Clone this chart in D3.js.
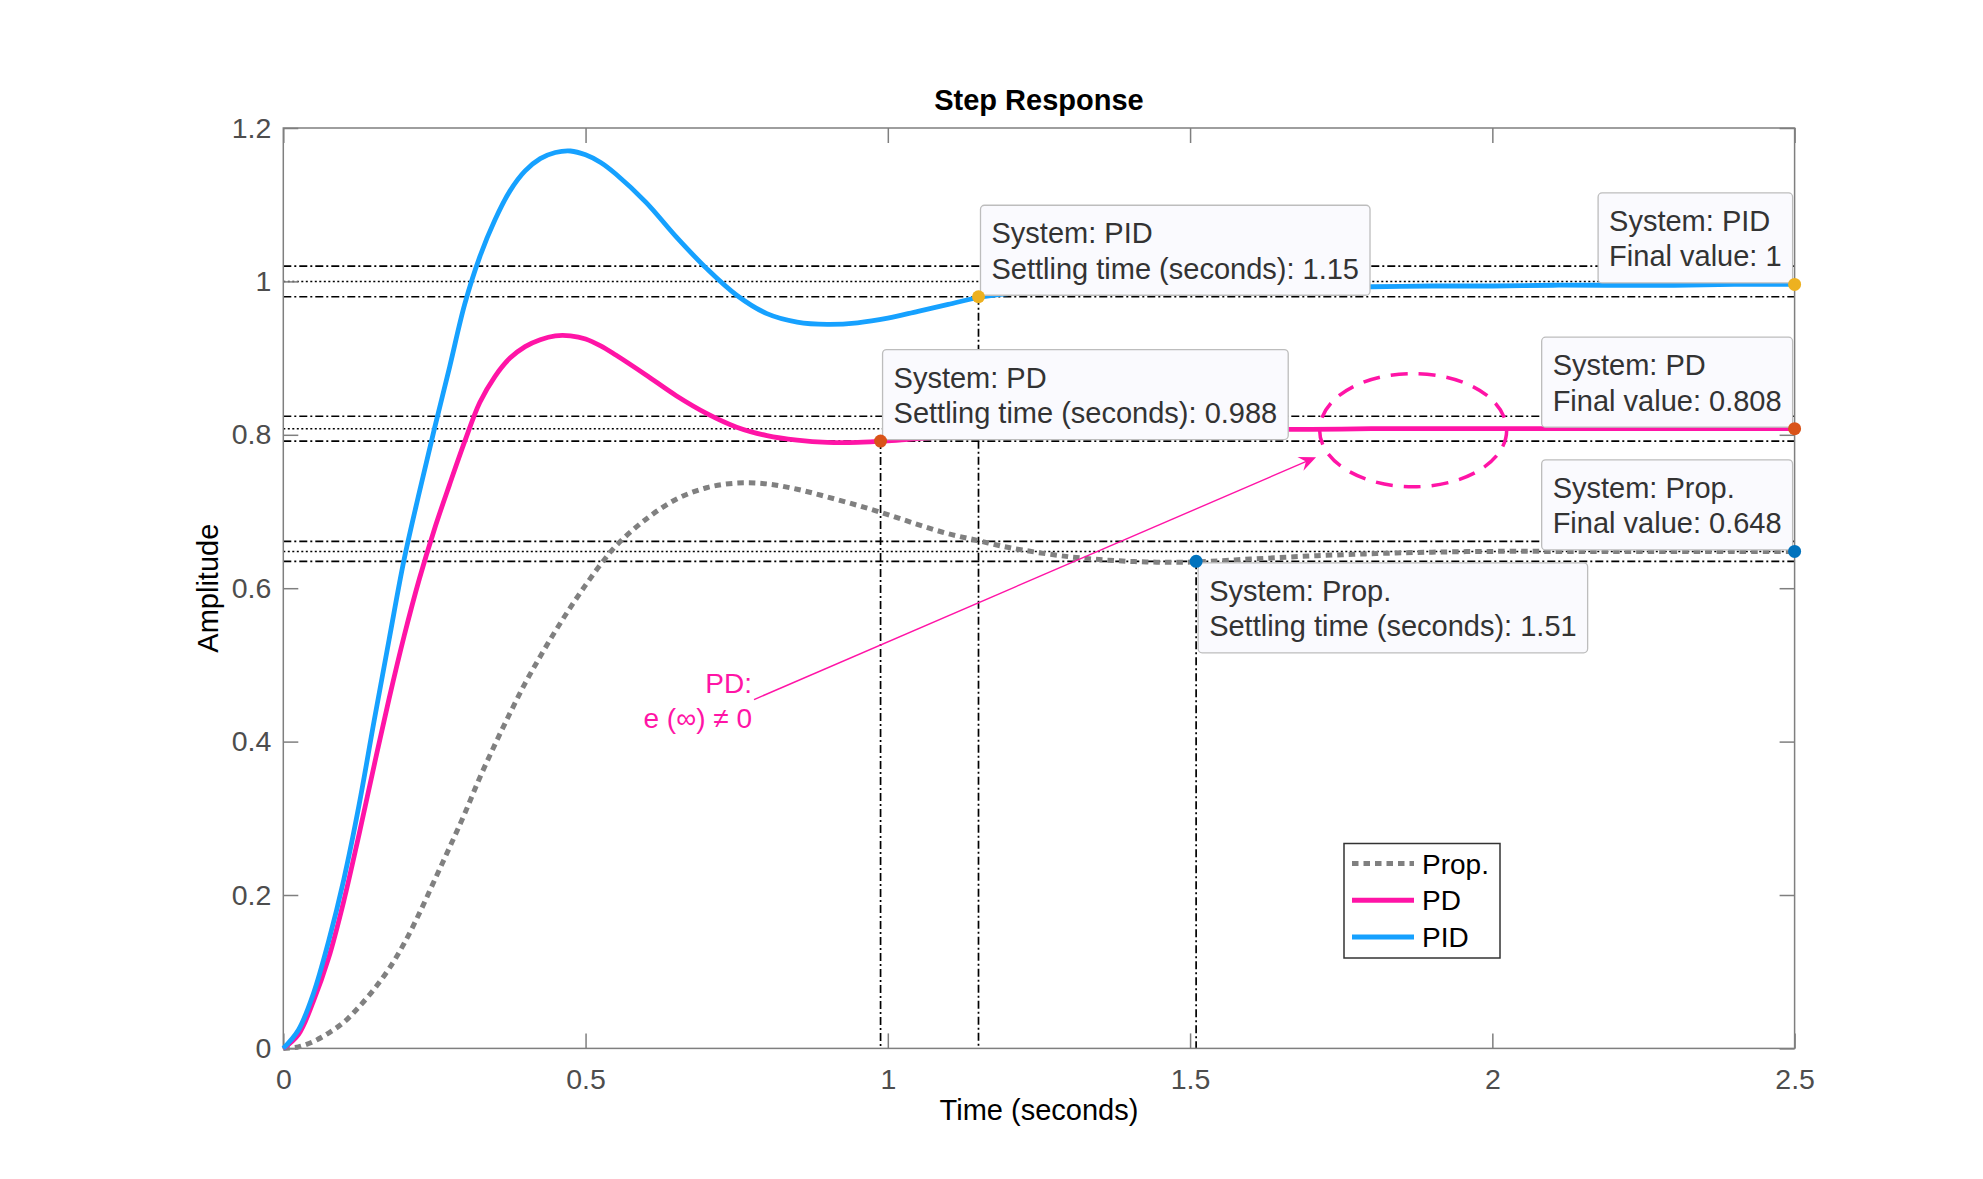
<!DOCTYPE html>
<html lang="en">
<head>
    <meta charset="UTF-8"/>
    <title>Step Response</title>
    <script src="https://d3js.org/d3.v7.min.js"></script>
    <style>
        body { margin: 0; background: #fff; }
        svg { display: block; font-family: Helvetica, "Liberation Sans", Arial, sans-serif; }
    </style>
</head>
<body>
<script>
    var w = 1983;
    var h = 1179;
    var plotLeft = 283.3, plotRight = 1794.6, plotTop = 128, plotBottom = 1048.4;

    // values
    var time = [0, 0.025, 0.05, 0.075, 0.1, 0.125, 0.15, 0.175, 0.2, 0.225, 0.25, 0.275, 0.3, 0.325,
        0.35, 0.375, 0.4, 0.425, 0.45, 0.475, 0.5, 0.525, 0.55, 0.6, 0.65, 0.7, 0.75, 0.8, 0.85, 0.9,
        0.95, 1.0, 1.05, 1.1, 1.15, 1.2, 1.3, 1.4, 1.5, 1.6, 1.7, 1.8, 1.9, 2.0, 2.1, 2.2, 2.3, 2.4, 2.5];
    var propValues = [0, 0.002, 0.009, 0.020, 0.034, 0.054, 0.077, 0.104, 0.137, 0.176, 0.219, 0.262,
        0.306, 0.353, 0.396, 0.437, 0.476, 0.511, 0.544, 0.575, 0.604, 0.631, 0.655, 0.690, 0.716, 0.731,
        0.737, 0.736, 0.729, 0.719, 0.708, 0.696, 0.683, 0.671, 0.662, 0.653, 0.641, 0.635, 0.634, 0.638,
        0.642, 0.645, 0.647, 0.648, 0.648, 0.648, 0.648, 0.648, 0.648];
    var pdValues = [0, 0.018, 0.062, 0.118, 0.192, 0.278, 0.368, 0.456, 0.538, 0.612, 0.677, 0.735,
        0.791, 0.842, 0.876, 0.900, 0.915, 0.924, 0.929, 0.929, 0.925, 0.916, 0.904, 0.878, 0.851, 0.828,
        0.810, 0.799, 0.793, 0.790, 0.790, 0.792, 0.795, 0.798, 0.801, 0.803, 0.805, 0.806, 0.807, 0.807,
        0.807, 0.808, 0.808, 0.808, 0.808, 0.808, 0.808, 0.808, 0.808];
    var pidValues = [0, 0.024, 0.072, 0.140, 0.220, 0.316, 0.426, 0.533, 0.638, 0.725, 0.808, 0.888,
        0.970, 1.032, 1.080, 1.118, 1.144, 1.160, 1.168, 1.170, 1.165, 1.155, 1.140, 1.103, 1.058, 1.017,
        0.982, 0.958, 0.947, 0.944, 0.946, 0.952, 0.961, 0.970, 0.979, 0.984, 0.988, 0.990, 0.991, 0.992,
        0.993, 0.993, 0.994, 0.994, 0.995, 0.995, 0.995, 0.996, 0.996];

    var seriesNames = ["Prop.", "PD", "PID"];
    var seriesColors = ["#808080", "#ff14a6", "#16a1ff"];
    var markerColors = ["#0072bd", "#d95319", "#edb120"];
    var finalValues = [0.648, 0.808, 1];
    var settleTimes = [1.51, 0.988, 1.15];

    var xTicks = [0, 0.5, 1, 1.5, 2, 2.5];
    var yTicks = [0, 0.2, 0.4, 0.6, 0.8, 1, 1.2];

    // data tips: series index, point kind, and which corner of the box sits on the point
    var tipSeries = [2, 1, 0, 2, 1, 0];
    var tipKind = ["settle", "settle", "settle", "final", "final", "final"];
    var tipCorner = ["bl", "bl", "tl", "br", "br", "br"];
    var tipLines = [
        ["System: PID", "Settling time (seconds): 1.15"],
        ["System: PD", "Settling time (seconds): 0.988"],
        ["System: Prop.", "Settling time (seconds): 1.51"],
        ["System: PID", "Final value: 1"],
        ["System: PD", "Final value: 0.808"],
        ["System: Prop.", "Final value: 0.648"]
    ];

    var xScale = d3.scaleLinear().domain([0, 2.5]).range([plotLeft, plotRight]);
    var yScale = d3.scaleLinear().domain([0, 1.2]).range([plotBottom, plotTop]);

    var svg = d3.select("body")
        .append("svg")
        .attr("width", w)
        .attr("height", h);

    svg.append("rect").attr("width", w).attr("height", h).attr("fill", "#fff");

    // settling bands
    var bands = svg.append("g");
    finalValues.forEach(function(f, i) {
        [f * 1.02, f * 0.98].forEach(function(v) {
            bands.append("line")
                .attr("x1", xScale(0)).attr("x2", xScale(2.5))
                .attr("y1", yScale(v)).attr("y2", yScale(v))
                .attr("stroke", "#000").attr("stroke-width", 1.7)
                .attr("stroke-dasharray", "8,3,2,3");
        });
        bands.append("line")
            .attr("x1", xScale(0)).attr("x2", xScale(2.5))
            .attr("y1", yScale(f)).attr("y2", yScale(f))
            .attr("stroke", "#000").attr("stroke-width", 1.5)
            .attr("stroke-dasharray", "2,2.5");
        bands.append("line")
            .attr("x1", xScale(settleTimes[i])).attr("x2", xScale(settleTimes[i]))
            .attr("y1", yScale(f * 0.98)).attr("y2", yScale(0))
            .attr("stroke", "#000").attr("stroke-width", 1.7)
            .attr("stroke-dasharray", "8,3,2,3");
    });

    // axes (inward ticks on all sides)
    var xAxis = d3.axisBottom(xScale).tickValues(xTicks).tickSize(-15).tickSizeOuter(0)
        .tickPadding(20).tickFormat(function(d) { return String(d); });
    var yAxis = d3.axisLeft(yScale).tickValues(yTicks).tickSize(-15).tickSizeOuter(0)
        .tickPadding(12).tickFormat(function(d) { return String(d); });

    svg.append("g").attr("transform", "translate(0," + plotBottom + ")").call(xAxis);
    svg.append("g").attr("transform", "translate(" + plotLeft + ",0)").call(yAxis);
    svg.append("g").attr("transform", "translate(0," + plotTop + ")")
        .call(d3.axisTop(xScale).tickValues(xTicks).tickSize(-15).tickSizeOuter(0).tickFormat(""));
    svg.append("g").attr("transform", "translate(" + plotRight + ",0)")
        .call(d3.axisRight(yScale).tickValues(yTicks).tickSize(-15).tickSizeOuter(0).tickFormat(""));

    svg.selectAll(".domain").remove();
    svg.selectAll(".tick line").attr("stroke", "#7f7f7f").attr("stroke-width", 1.5);
    svg.selectAll(".tick text").attr("fill", "#4d4d4d").attr("font-size", "28.5px")
        .attr("font-family", "Helvetica, 'Liberation Sans', Arial, sans-serif");

    svg.append("rect")
        .attr("x", plotLeft).attr("y", plotTop)
        .attr("width", plotRight - plotLeft).attr("height", plotBottom - plotTop)
        .attr("fill", "none").attr("stroke", "#7f7f7f").attr("stroke-width", 1.5);

    // curves
    var line = d3.line()
        .x(function(d) { return xScale(d[0]); })
        .y(function(d) { return yScale(d[1]); })
        .curve(d3.curveCatmullRom.alpha(0.5));

    var allValues = [propValues, pdValues, pidValues];
    allValues.forEach(function(vals, i) {
        var pts = time.map(function(t, k) { return [t, vals[k]]; });
        svg.append("path")
            .datum(pts)
            .attr("d", line)
            .attr("fill", "none")
            .attr("stroke", seriesColors[i])
            .attr("stroke-width", i == 0 ? 5 : 4.8)
            .attr("stroke-dasharray", i == 0 ? "6.5,5" : null)
            .attr("stroke-linejoin", "round");
    });

    // data tip boxes
    var tipPoints = tipSeries.map(function(s, i) {
        if (tipKind[i] == "settle") return [settleTimes[s], finalValues[s] * 0.98];
        var vals = allValues[s];
        return [time[time.length - 1], vals[vals.length - 1]];
    });

    var tipLayer = svg.append("g");
    tipLines.forEach(function(lines, i) {
        var px = xScale(tipPoints[i][0]);
        var py = yScale(tipPoints[i][1]);
        var g = tipLayer.append("g");
        var rect = g.append("rect")
            .attr("fill", "#fafafe").attr("stroke", "#bdbdbd").attr("stroke-width", 1.3)
            .attr("rx", 4).attr("ry", 4);
        var texts = lines.map(function(s) {
            return g.append("text").text(s)
                .attr("font-size", "29px").attr("fill", "#333");
        });
        var tw = d3.max(texts, function(t) { return t.node().getComputedTextLength(); });
        var bw = tw + 22, bh = 90;
        var bx = tipCorner[i][1] == "l" ? px + 2 : px - 2 - bw;
        var by = tipCorner[i][0] == "b" ? py - 1.5 - bh : py + 1.5;
        rect.attr("x", bx).attr("y", by).attr("width", bw).attr("height", bh);
        texts[0].attr("x", bx + 11).attr("y", by + 38);
        texts[1].attr("x", bx + 11).attr("y", by + 73.5);
    });

    svg.selectAll(".marker")
        .data(tipPoints)
        .enter()
        .append("circle")
        .attr("class", "marker")
        .attr("cx", function(d) { return xScale(d[0]); })
        .attr("cy", function(d) { return yScale(d[1]); })
        .attr("r", 6.5)
        .attr("fill", function(d, i) { return markerColors[tipSeries[i]]; });

    // annotation: ellipse, arrow and note
    var pink = "#ff14a6";
    var ellipseCenter = [1.869, 0.806], ellipseR = [0.1547, 0.0738];
    svg.append("ellipse")
        .attr("cx", xScale(ellipseCenter[0])).attr("cy", yScale(ellipseCenter[1]))
        .attr("rx", xScale(ellipseR[0]) - xScale(0))
        .attr("ry", yScale(0) - yScale(ellipseR[1]))
        .attr("fill", "none").attr("stroke", pink).attr("stroke-width", 3.5)
        .attr("stroke-dasharray", "17,11");

    var arrowFrom = [0.7787, 0.4548], arrowTo = [1.7084, 0.7708];
    var ax1 = xScale(arrowFrom[0]), ay1 = yScale(arrowFrom[1]);
    var ax2 = xScale(arrowTo[0]), ay2 = yScale(arrowTo[1]);
    var ang = Math.atan2(ay2 - ay1, ax2 - ax1);
    svg.append("line")
        .attr("x1", ax1).attr("y1", ay1)
        .attr("x2", ax2 - 8 * Math.cos(ang)).attr("y2", ay2 - 8 * Math.sin(ang))
        .attr("stroke", pink).attr("stroke-width", 1.4);
    svg.append("path")
        .attr("d", "M0,0 L-17,-7.5 L-11,0 L-17,7.5 Z")
        .attr("transform", "translate(" + ax2 + "," + ay2 + ") rotate(" + (ang * 180 / Math.PI) + ")")
        .attr("fill", pink);

    var notePos = [0.7753, 0.464];
    var noteLines = ["PD:", "e (\u221e) \u2260 0"];
    noteLines.forEach(function(s, i) {
        svg.append("text")
            .attr("x", xScale(notePos[0]))
            .attr("y", yScale(notePos[1]) + i * 35.5)
            .attr("text-anchor", "end")
            .attr("font-size", "28px")
            .attr("fill", pink)
            .text(s);
    });

    // legend
    var lg = svg.append("g").attr("transform", "translate(1344,843.5)");
    lg.append("rect").attr("width", 156).attr("height", 114.5)
        .attr("fill", "#fff").attr("stroke", "#333").attr("stroke-width", 1.5);
    seriesNames.forEach(function(name, i) {
        var yy = 20 + i * 36.7;
        lg.append("line")
            .attr("x1", 8).attr("x2", 70).attr("y1", yy).attr("y2", yy)
            .attr("stroke", seriesColors[i]).attr("stroke-width", 5)
            .attr("stroke-dasharray", i == 0 ? "6.5,5" : null);
        lg.append("text").attr("x", 78).attr("y", yy + 10)
            .attr("font-size", "28px").attr("fill", "#000").text(name);
    });

    // title and axis labels
    svg.append("text")
        .attr("x", (plotLeft + plotRight) / 2).attr("y", 110)
        .attr("text-anchor", "middle").attr("font-size", "29px").attr("font-weight", "bold")
        .text("Step Response");
    svg.append("text")
        .attr("x", (plotLeft + plotRight) / 2).attr("y", 1120)
        .attr("text-anchor", "middle").attr("font-size", "29px")
        .text("Time (seconds)");
    svg.append("text")
        .attr("transform", "translate(218," + ((plotTop + plotBottom) / 2) + ") rotate(-90)")
        .attr("text-anchor", "middle").attr("font-size", "29px")
        .text("Amplitude");
</script>
</body>
</html>
